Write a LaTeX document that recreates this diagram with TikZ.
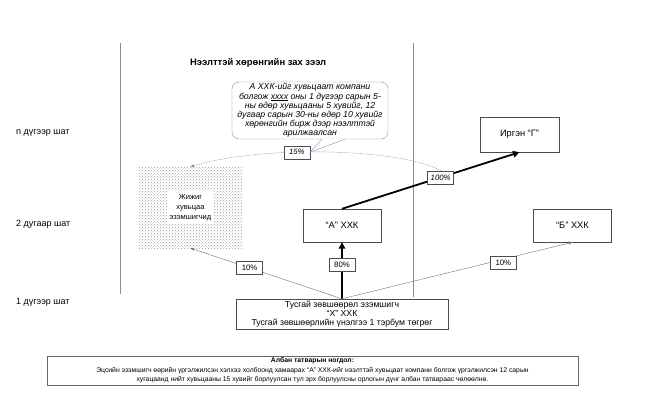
\documentclass[tikz,border=0pt]{standalone}
\usepackage{fontspec}
\setmainfont{Liberation Sans}
\usetikzlibrary{arrows.meta,patterns}
\definecolor{calloutblue}{RGB}{120,145,195}

\begin{document}
\begin{tikzpicture}[x=1pt, y=-1pt,
    box/.style={draw=black!70, fill=white, minimum width=78pt, minimum height=33pt, font=\fontsize{9.3}{11}\selectfont},
    pct/.style={draw=black!70, line width=0.4pt, fill=white, text=black, inner sep=1pt, minimum width=26pt, minimum height=13pt, font=\fontsize{7.8}{9}\selectfont},
    thinarrow/.style={draw=black!55, line width=0.4pt, -{Stealth[length=4pt,width=3pt]}},
    thickarrow/.style={line width=1.8pt, -{Triangle[length=6.5pt,width=6.5pt]}}]
  \useasboundingbox (0,0) rectangle (649,412);
  % market borders
  \draw[black!45] (120,43) -- (120,294);
  \draw[black!45] (413,43) -- (413,297);
  \foreach \lbl/\y in {n дүгээр шат/133, 2 дугаар шат/224, 1 дүгээр шат/302}
    \node[anchor=west, inner sep=0pt, font=\fontsize{9}{10}\selectfont] (row\y) at (16,\y) {\lbl};
  \node[anchor=west, inner sep=0pt, font=\bfseries\fontsize{9.4}{11}\selectfont] (title) at (190,63) {Нээлттэй хөрөнгийн зах зээл};

  \node[box, minimum width=79pt, minimum height=35pt] (irgen) at (519.5,134.5) {Иргэн “Г”};
  \node[box] (axxk) at (342,225.5) {“А” ХХК};
  \node[box] (bxxk) at (572.5,225.5) {“Б” ХХК};
  \node[minimum width=103pt, minimum height=81pt, pattern=crosshatch dots, pattern color=black!38] (small) at (190.5,207.5) {};
  \node[fill=white, align=center, inner sep=3pt, font=\fontsize{7.5}{10}\selectfont] (smalltxt) at (small) {Жижиг\\хувьцаа\\эзэмшигчид};
  \node[box, minimum width=212pt, minimum height=30pt, inner sep=0.5pt, align=center, font=\fontsize{8.7}{8.9}\selectfont] (xxxk) at (342,314)
    {Тусгай зөвшөөрөл эзэмшигч\\“Х” ХХК\\Тусгай зөвшөөрлийн үнэлгээ 1 тэрбум төгрөг};

  \draw[thickarrow] (xxxk.north) -- (axxk.south) node[pct, pos=0.6] (p80) {80\%};
  \draw[thinarrow] (xxxk.north) -- (small.south) node[pct, pos=0.61] (p10a) {10\%};
  \draw[thinarrow] (xxxk.north) -- (bxxk.south) node[pct, pos=0.7, yshift=-4pt] (p10b) {10\%};
  \draw[thickarrow] (axxk.north) -- (irgen.south) node[pct, pos=0.556, font=\itshape\fontsize{7.8}{9}\selectfont] (p100) {100\%};
  \draw[black!50, dash pattern=on 1.2pt off 1pt, -{Stealth[length=4pt,width=3pt]}] (p100.north) .. controls (400,148) and (260,145) .. (small.north)
    node[pct, pos=0.6, solid, font=\itshape\fontsize{7.8}{9}\selectfont] (p15) {15\%};

  \node[draw=calloutblue, fill=white, rounded corners=7pt, minimum width=156pt, minimum height=57pt, inner sep=0.5pt, align=center,
    font=\itshape\fontsize{8.7}{9.2}\selectfont] (note) at (310,110.5)
    {А ХХК-ийг хувьцаат компани\\болгож \underline{хххх} оны 1 дүгээр сарын 5-\\ны өдөр хувьцааны 5 хувийг, 12\\дугаар сарын 30-ны өдөр 10 хувийг\\хөрөнгийн бирж дээр нээлттэй\\арилжаалсан};
  \fill[white] ([xshift=12pt,yshift=0.6pt]note.south) -- (p15.east) -- ([xshift=35pt,yshift=0.6pt]note.south) -- cycle;
  \draw[calloutblue] ([xshift=12pt]note.south) -- (p15.east) -- ([xshift=35pt]note.south);

  \node[draw=black!60, minimum width=531pt, minimum height=29pt, inner sep=0pt, align=center, font=\fontsize{6.8}{9.3}\selectfont] (tax) at (312.5,370.5)
    {\textbf{Албан татварын ногдол:}\\Эцсийн эзэмшигч өөрийн үргэлжилсэн хэлхээ холбоонд хамаарах “А” ХХК-ийг нээлттэй хувьцаат компани болгож үргэлжилсэн 12 сарын\\хугацаанд нийт хувьцааны 15 хувийг борлуулсан тул эрх борлуулсны орлогын дүнг албан татвараас чөлөөлнө.};
\end{tikzpicture}
\end{document}
